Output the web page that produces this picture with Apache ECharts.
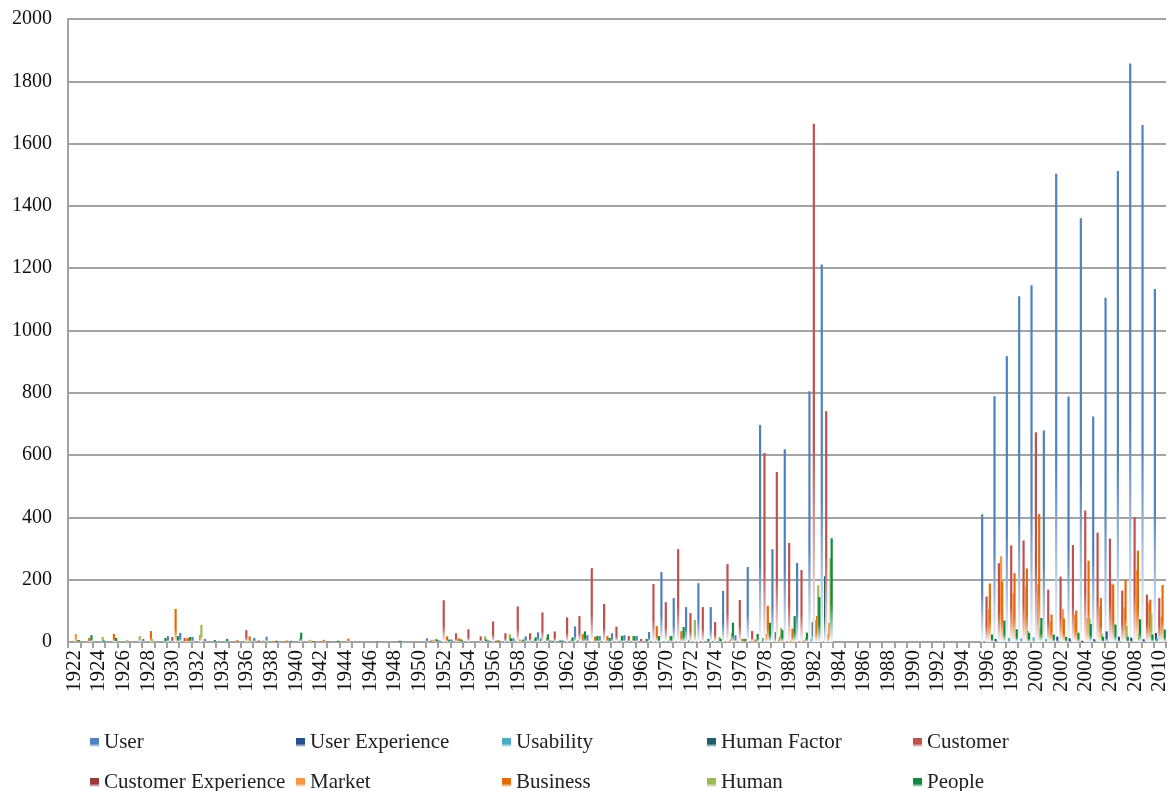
<!DOCTYPE html>
<html>
<head>
<meta charset="utf-8">
<script src="https://cdn.jsdelivr.net/npm/echarts@6/dist/echarts.min.js"></script>
<style>html,body{margin:0;padding:0;background:#fff}#chart{width:1172px;height:791px}</style>
</head>
<body>
<div id="chart"></div>
<script>
// Categories (years 1922..2010)
var years = [
 '1922','1923','1924','1925','1926','1927','1928','1929',
 '1930','1931','1932','1933','1934','1935','1936','1937','1938','1939',
 '1940','1941','1942','1943','1944','1945','1946','1947','1948','1949',
 '1950','1951','1952','1953','1954','1955','1956','1957','1958','1959',
 '1960','1961','1962','1963','1964','1965','1966','1967','1968','1969',
 '1970','1971','1972','1973','1974','1975','1976','1977','1978','1979',
 '1980','1981','1982','1983','1984','1985','1986','1987','1988','1989',
 '1990','1991','1992','1993','1994','1995','1996','1997','1998','1999',
 '2000','2001','2002','2003','2004','2005','2006','2007','2008','2009',
 '2010'];

var yTicks = [0,200,400,600,800,1000,1200,1400,1600,1800,2000];

var user = [
 0,0,0,0,0,0,10,0,
 19,29,16,10,0,0,0,13,17,0,
 4,0,0,3,0,0,0,3,0,0,
 0,12,5,8,0,0,5,0,12,18,
 31,5,5,50,22,19,28,22,19,32,
 225,141,112,189,112,164,22,241,697,298,
 619,254,805,1212,0,0,0,0,0,0,
 0,0,0,0,0,0,410,789,917,1110,
 1145,679,1503,788,1360,724,1105,1512,1857,1660,
 1133];
var userExperience = [
 0,0,0,0,0,0,0,0,
 0,0,0,0,0,0,0,0,0,0,
 0,0,0,0,0,0,0,0,0,0,
 0,0,0,0,0,0,0,0,0,0,
 0,0,0,0,0,0,0,0,0,0,
 0,0,0,0,0,0,0,0,0,0,
 0,0,0,0,0,0,0,0,0,0,
 0,0,0,0,0,0,0,10,0,0,
 0,0,17,12,4,9,34,17,14,9,
 29];
var usability = [
 0,0,0,0,0,0,0,0,
 0,0,0,0,0,0,0,0,0,0,
 0,0,0,0,0,0,0,0,0,0,
 0,0,0,0,0,0,0,0,0,0,
 0,0,0,0,0,0,0,0,0,0,
 0,0,0,0,0,0,0,0,0,0,
 0,0,10,0,0,0,0,0,0,0,
 0,0,0,0,0,0,0,0,13,12,
 15,9,0,0,0,0,0,0,0,0,
 12];
var humanFactor = [
 0,0,0,0,0,0,0,0,
 0,0,0,0,0,0,0,0,0,0,
 0,0,0,0,0,0,0,0,0,0,
 0,0,0,0,0,0,0,0,0,0,
 12,4,0,5,0,0,0,0,0,0,
 0,0,5,0,0,0,0,0,13,32,
 0,0,64,211,0,0,0,0,0,0,
 0,0,0,0,0,0,0,0,0,0,
 0,0,0,0,0,0,0,0,0,0,
 0];
var customer = [
 0,0,0,0,0,0,0,0,
 16,13,0,0,0,0,38,5,0,0,
 0,0,0,0,0,0,0,0,0,0,
 0,5,134,28,41,18,66,28,114,28,
 95,34,79,83,237,122,49,19,10,186,
 128,298,93,112,64,250,135,35,607,546,
 318,231,1664,741,0,0,0,0,0,0,
 0,0,0,0,0,0,146,253,310,326,
 673,168,210,311,422,351,332,165,401,152,
 141];
var customerExperience = [
 0,0,0,0,0,0,0,0,
 0,0,0,0,0,0,0,0,0,0,
 0,0,0,0,0,0,0,0,0,0,
 0,0,0,0,0,0,0,0,0,0,
 0,0,0,0,0,0,0,0,0,0,
 0,0,0,0,0,0,0,0,0,0,
 0,0,0,0,0,0,0,0,0,0,
 0,0,0,0,0,0,0,0,0,0,
 0,0,0,0,0,0,0,0,0,0,
 0];
var market = [
 26,0,0,0,0,0,0,0,
 0,10,0,0,0,0,0,0,4,0,
 0,7,0,0,0,0,0,0,0,0,
 0,6,0,10,0,0,0,0,8,0,
 0,0,0,0,0,0,0,0,0,0,
 0,0,0,0,0,0,10,0,26,8,
 5,5,70,25,0,0,0,0,0,0,
 0,0,0,0,0,0,105,275,156,178,
 186,66,105,88,77,114,188,111,231,127,
 81];
var business = [
 6,13,0,26,0,0,35,0,
 106,13,22,0,0,6,18,0,0,5,
 0,0,7,0,11,0,0,0,0,0,
 0,0,18,12,0,0,5,0,0,0,
 0,0,0,25,17,19,0,0,0,51,
 0,35,0,0,0,8,10,8,116,17,
 43,0,84,61,0,0,0,0,0,0,
 0,0,0,0,0,0,188,194,221,236,
 411,88,76,101,261,141,184,199,293,136,
 183];
var human = [
 0,0,16,0,6,19,10,0,
 0,0,55,0,0,0,5,5,0,0,
 11,0,0,0,0,0,0,3,0,0,
 0,10,0,0,0,18,0,25,0,8,
 15,0,8,12,0,0,0,19,0,0,
 19,0,71,0,16,29,0,0,0,45,
 0,13,182,270,0,0,0,0,0,0,
 0,0,0,0,0,0,0,0,0,36,
 47,0,0,0,75,26,0,52,26,92,
 0];
var people = [
 6,22,5,13,0,0,0,13,
 19,16,0,6,10,0,0,0,4,0,
 30,3,0,4,0,0,0,0,4,0,
 0,8,8,8,0,8,5,12,8,15,
 25,5,15,34,19,13,19,19,10,19,
 19,48,0,10,10,62,10,26,62,38,
 83,30,144,333,0,0,0,0,0,0,
 0,0,0,0,0,0,24,69,41,29,
 77,24,17,30,58,17,56,17,73,24,
 40];

var seriesNames = ['User','User Experience','Usability','Human Factor','Customer',
  'Customer Experience','Market','Business','Human','People'];
var seriesData = [user,userExperience,usability,humanFactor,customer,
  customerExperience,market,business,human,people];
var seriesColors = ['#4F81BD','#21508A','#4BACC6','#1D5F6B','#C0504D',
  '#9A3A38','#F79646','#E36C09','#9BBB59','#0E8A3C'];

var FONT = '"Liberation Serif","DejaVu Serif",serif';
var chart = echarts.init(document.getElementById('chart'), null, {renderer:'canvas'});

function grad(c){
  return new echarts.graphic.LinearGradient(0,0,0,1,[
    {offset:0,color:c},{offset:0.62,color:c},{offset:1,color:'#f6f9fc'}]);
}

var series = seriesNames.map(function(n,i){
  return {
    name:n, type:'bar', data:seriesData[i],
    barWidth:2.2, barGap:'-50%',
    itemStyle:{color:grad(seriesColors[i])},
    emphasis:{disabled:true}, animation:false
  };
});

var legendLefts = [85, 291, 497, 702, 908];
var legendTops = [727, 767];
var legends = seriesNames.map(function(n,i){
  return {
    data:[n], left:legendLefts[i%5], top:legendTops[Math.floor(i/5)],
    icon:'rect', itemWidth:9, itemHeight:9, itemGap:0,
    textStyle:{fontFamily:FONT, fontSize:21, color:'#222'},
    selectedMode:false
  };
});

chart.setOption({
  animation:false,
  backgroundColor:'#fff',
  grid:{left:68, right:6, top:19, bottom:149, containLabel:false},
  legend:legends,
  xAxis:{
    type:'category', data:years, boundaryGap:true,
    axisLine:{show:true, lineStyle:{color:'#a3a3a3', width:2}},
    axisTick:{show:true, interval:0, length:6, lineStyle:{color:'#a3a3a3', width:2}},
    axisLabel:{interval:1, rotate:90, margin:8, fontFamily:FONT, fontSize:21, color:'#111'}
  },
  yAxis:{
    type:'value', min:yTicks[0], max:yTicks[yTicks.length-1], interval:200,
    axisLine:{show:true, lineStyle:{color:'#a3a3a3', width:2}},
    axisTick:{show:false},
    splitLine:{show:true, lineStyle:{color:'#a3a3a3', width:2}},
    axisLabel:{margin:16, fontFamily:FONT, fontSize:20, color:'#111',
      formatter:function(v){ return String(v); }}
  },
  series:series
});
</script>
</body>
</html>
